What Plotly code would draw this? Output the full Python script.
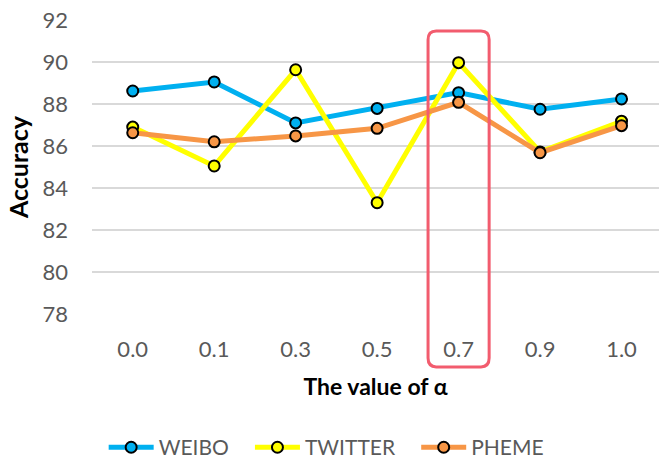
import plotly.graph_objects as go

alpha_labels = ["0.0", "0.1", "0.3", "0.5", "0.7", "0.9", "1.0"]
weibo = [88.62, 89.05, 87.10, 87.79, 88.54, 87.75, 88.24]
twitter = [86.90, 85.05, 89.63, 83.30, 89.97, 85.72, 87.18]
pheme = [86.63, 86.20, 86.48, 86.84, 88.08, 85.68, 86.97]

series = [
    ("WEIBO", weibo, "#00B0F0"),
    ("TWITTER", twitter, "#FFFF00"),
    ("PHEME", pheme, "#F79646"),
]

FONT = "Lato, 'Open Sans', sans-serif"
GRAY = "#595959"
PAD = "\u00a0" * 3  # extra spacing between legend entries

fig = go.Figure()
for i, (name, vals, color) in enumerate(series):
    fig.add_trace(go.Scatter(
        x=alpha_labels, y=vals, mode="lines+markers",
        name=name + (PAD if i < len(series) - 1 else ""),
        line=dict(color=color, width=5),
        marker=dict(size=11, color=color, line=dict(color="black", width=2)),
    ))

# highlight box around the alpha = 0.7 column (rounded rectangle)
hi = alpha_labels.index("0.7")
hw, rx = 0.375, 0.1
top, bot, ry = 0.963, -0.18, 0.03
x0, x1 = hi - hw, hi + hw
box = (f"M {x0+rx},{top} L {x1-rx},{top} Q {x1},{top} {x1},{top-ry} "
       f"L {x1},{bot+ry} Q {x1},{bot} {x1-rx},{bot} "
       f"L {x0+rx},{bot} Q {x0},{bot} {x0},{bot+ry} "
       f"L {x0},{top-ry} Q {x0},{top} {x0+rx},{top} Z")
fig.add_shape(type="path", path=box, xref="x", yref="paper",
              line=dict(color="#F25C6E", width=3), layer="above")

fig.update_layout(
    width=659, height=460,
    margin=dict(l=92, r=0, t=20, b=146, autoexpand=False),
    plot_bgcolor="white", paper_bgcolor="white",
    font=dict(family=FONT, color=GRAY, size=21),
    showlegend=True,
    legend=dict(orientation="h", x=0.413, xanchor="center",
                yref="container", y=0.027, yanchor="middle",
                font=dict(size=21, color=GRAY), itemwidth=45, tracegroupgap=0),
    xaxis=dict(type="category", range=[-0.5, 6.46], showgrid=False, showline=False,
               zeroline=False, ticks="", ticklabelstandoff=20, automargin=False,
               tickfont=dict(size=22, color=GRAY),
               title=dict(text="<b>The value of α</b>", standoff=17,
                          font=dict(size=23, color="black"))),
    yaxis=dict(range=[78, 92], dtick=2, showgrid=True, gridcolor="#D9D9D9", gridwidth=2,
               zeroline=False, showline=False, ticks="", ticklabelstandoff=23,
               automargin=False,
               tickfont=dict(size=22, color=GRAY),
               title=dict(text="<b>Accuracy</b>", standoff=6,
                          font=dict(size=25, color="black"))),
)

fig.write_html("out.html")
